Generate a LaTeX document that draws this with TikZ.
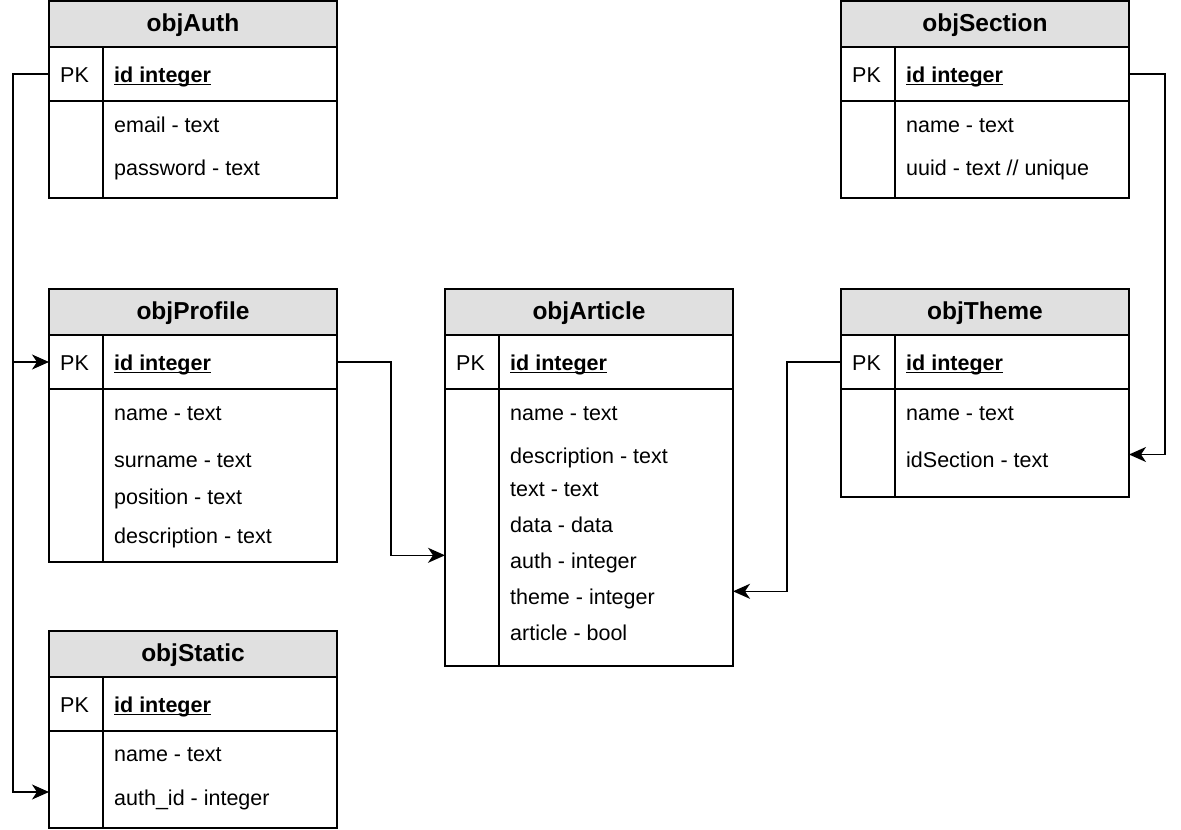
\documentclass[tikz,border=0pt]{standalone}
\usepackage{fontspec}
\setmainfont{Liberation Sans}
\usetikzlibrary{arrows.meta}

\definecolor{headgray}{HTML}{E0E0E0}

% underline close to the baseline, as in the drawing
\newcommand\keyline[1]{\setbox0\hbox{#1}\rlap{\rule[-2.6pt]{\wd0}{1.6pt}}\box0}

\tikzset{
  tblbox/.style={minimum width=288pt, anchor=north west, inner sep=0pt, outer sep=0pt},
  tblhead/.style={draw, line width=1.2pt, fill=headgray, minimum width=288pt, minimum height=46pt,
    anchor=north west, inner sep=0pt, outer sep=0pt,
    font=\fontsize{24.5}{29}\selectfont\bfseries, text height=15pt, text depth=0pt},
  pkrow/.style={minimum width=288pt, minimum height=54pt, anchor=north west, inner sep=0pt, outer sep=0pt},
  pktext/.style={anchor=west, inner sep=0pt, font=\fontsize{21.5}{26}\selectfont, text height=17pt, text depth=0pt},
  field/.style={anchor=base west, inner sep=0pt, font=\fontsize{21.5}{26}\selectfont, text height=26pt, text depth=0pt},
  link/.style={line width=1.5pt, -{Stealth[length=17pt, width=15pt, inset=5pt]}},
}

% table: name, north west corner, title, height
\newcommand\ertable[4]{%
  \node[tblbox, minimum height=#4] (#1) at (#2) {};
  \node[tblhead] (#1head) at (#1.north west) {#3};
  \node[pkrow] (#1pk) at (#1head.south west) {};
  \node[pktext] (#1pklabel) at ([xshift=11pt]#1pk.west) {PK};
  \node[pktext] (#1id) at ([xshift=65pt]#1pk.west) {\keyline{\bfseries id integer}};
  \draw[line width=1.5pt] ([xshift=54pt]#1pk.north west) -- ([xshift=54pt]#1.south west);
  \draw[line width=2pt] (#1pk.south west) -- (#1pk.south east);
  \draw[line width=2pt] (#1.north west) rectangle (#1.south east);
}

\begin{document}
\begin{tikzpicture}[x=1pt, y=-1pt]
  \useasboundingbox (0,0) rectangle (1181,830);

  \ertable{auth}{49,1}{objAuth}{197pt}
  \node[field] (authemail) at (114,132.5) {email - text};
  \node[field] (authpass) at (114,175) {password - text};

  \ertable{section}{841,1}{objSection}{197pt}
  \node[field] (sectionname) at (906,132.5) {name - text};
  \node[field] (sectionuuid) at (906,175) {uuid - text // unique};

  \ertable{profile}{49,289}{objProfile}{273pt}
  \node[field] (profilename) at (114,420.7) {name - text};
  \node[field] (profilesurname) at (114,467.7) {surname - text};
  \node[field] (profileposition) at (114,504) {position - text};
  \node[field] (profiledesc) at (114,543.3) {description - text};

  \ertable{article}{445,289}{objArticle}{377pt}
  \node[field] (articlename) at (510,420.7) {name - text};
  \node[field] (articledesc) at (510,463.3) {description - text};
  \node[field] (articletext) at (510,496.7) {text - text};
  \node[field] (articledata) at (510,532.3) {data - data};
  \node[field] (articleauth) at (510,568.3) {auth - integer};
  \node[field] (articletheme) at (510,604.3) {theme - integer};
  \node[field] (articlebool) at (510,640.3) {article - bool};

  \ertable{theme}{841,289}{objTheme}{208pt}
  \node[field] (themename) at (906,420.7) {name - text};
  \node[field] (themesection) at (906,467.5) {idSection - text};

  \ertable{static}{49,631}{objStatic}{197pt}
  \node[field] (staticname) at (114,761.7) {name - text};
  \node[field] (staticauth) at (114,805) {auth\_id - integer};

  % relations
  \draw[link] (authpk.west) -- ++(-36,0) |- (profilepk.west);
  \draw[link] (authpk.west) -- ++(-36,0) |- (static.west |- staticauth.west);
  \draw[link] (profilepk.east) -- ++(54,0) |- (article.west |- articleauth.west);
  \draw[link] (themepk.west) -- ++(-54,0) |- (article.east |- articletheme.west);
  \draw[link] (sectionpk.east) -- ++(36,0) |- (theme.east |- themesection.west);
\end{tikzpicture}
\end{document}
